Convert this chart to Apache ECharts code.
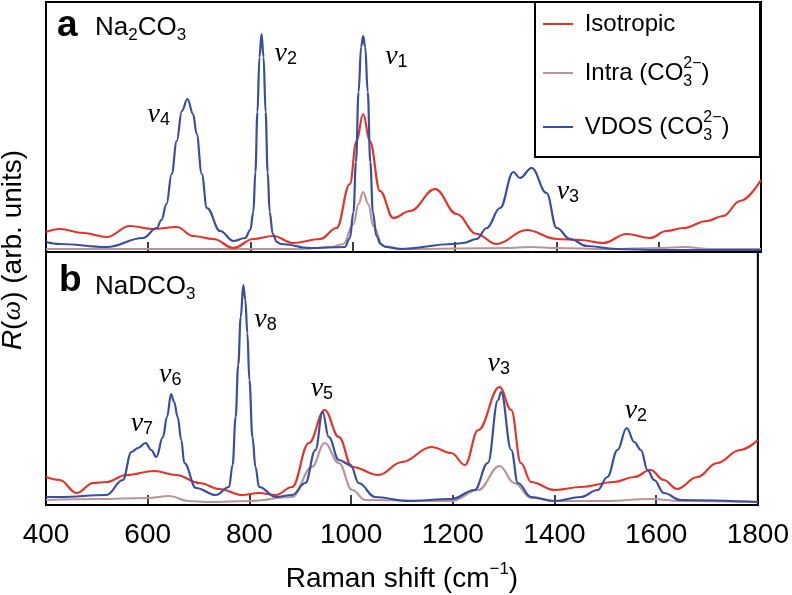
<!DOCTYPE html>
<html>
<head>
<meta charset="utf-8">
<script src="https://cdn.jsdelivr.net/npm/echarts@6/dist/echarts.min.js"></script>
<style>
  html, body { margin: 0; padding: 0; background: #fff; }
  #main { width: 792px; height: 595px; }
</style>
</head>
<body>
<div id="main"></div>
<script>
// x ticks (Raman shift, cm-1)
const xTicks = [400, 600, 800, 1000, 1200, 1400, 1600, 1800];

// panel a: Na2CO3  ([shift, R] in arb. units)
const isotropicA = [[400,20],[427,23],[473,19],[519,15],[564,26],[610,23],[656,25],[688,16],[728,13],[767,4],[806,13],[845,16],[884,9],[937,13],[969,24],[995,68],[1008,111],[1021,138],[1034,111],[1054,61],[1080,34],[1113,41],[1162,63],[1204,38],[1243,18],[1282,8],[1341,22],[1400,13],[1446,12],[1491,9],[1537,18],[1583,14],[1615,21],[1648,24],[1694,31],[1726,36],[1759,51],[1800,72]];
const intraA = [[400,3],[600,3],[700,3],[800,3],[900,3],[960,5],[982,8],[1002,28],[1012,48],[1021,60],[1031,48],[1041,26],[1060,6],[1100,3],[1300,4],[1350,5],[1400,4],[1500,3],[1600,4],[1650,5],[1700,3],[1800,3]];
const vdosA = [[400,10],[427,8],[519,5],[590,14],[617,24],[626,32],[636,48],[646,78],[656,111],[666,141],[677,153],[688,138],[695,118],[705,78],[715,44],[741,21],[767,11],[790,14],[800,22],[806,40],[810,80],[814,140],[818,195],[822,218],[826,195],[830,140],[834,80],[838,40],[844,18],[852,10],[860,8],[917,4],[985,5],[995,14],[1002,40],[1007,90],[1012,160],[1017,205],[1021,216],[1025,205],[1030,160],[1035,90],[1040,40],[1047,16],[1055,8],[1065,5],[1093,3],[1197,8],[1217,9],[1243,13],[1263,24],[1289,44],[1315,80],[1328,74],[1351,84],[1380,59],[1400,24],[1426,13],[1459,6],[1517,3],[1600,2],[1800,2]];

// panel b: NaDCO3
const isotropicB = [[400,28],[427,25],[460,12],[493,22],[519,23],[558,30],[613,34],[656,30],[702,22],[741,16],[786,10],[819,12],[852,10],[884,18],[917,62],[948,95],[976,68],[1002,38],[1054,30],[1100,43],[1158,58],[1197,52],[1224,40],[1250,75],[1292,118],[1315,95],[1334,42],[1354,23],[1400,15],[1452,18],[1517,23],[1557,28],[1589,35],[1615,25],[1641,16],[1681,28],[1720,42],[1765,55],[1800,65]];
const intraB = [[400,5],[500,6],[600,7],[643,9],[680,4],[720,3],[800,4],[884,8],[923,38],[948,62],[976,42],[1002,15],[1028,5],[1197,4],[1250,15],[1292,39],[1321,22],[1354,7],[1400,4],[1500,4],[1590,6],[1650,4],[1800,3]];
const vdosB = [[400,8],[427,8],[519,10],[551,25],[568,53],[581,57],[596,62],[607,55],[617,48],[630,68],[638,88],[646,111],[652,103],[659,88],[666,65],[672,42],[695,17],[734,10],[760,18],[767,40],[773,88],[778,140],[783,188],[788,220],[792,205],[796,172],[800,125],[806,68],[812,38],[819,18],[852,8],[884,10],[910,22],[930,55],[944,93],[956,68],[976,45],[999,40],[1015,22],[1047,8],[1112,4],[1197,6],[1243,15],[1269,42],[1289,105],[1295,113],[1315,55],[1328,22],[1354,8],[1400,4],[1452,8],[1485,15],[1504,28],[1524,55],[1542,77],[1557,63],[1570,55],[1583,35],[1596,25],[1615,12],[1648,5],[1800,3]];

// mode labels [subscript, shift, height]
const modesA = [["4", 677, 153], ["2", 822, 218], ["1", 1021, 216], ["3", 1351, 84]];
const modesB = [["7", 596, 62], ["6", 646, 111], ["8", 788, 220], ["5", 948, 95], ["3", 1292, 118], ["2", 1542, 77]];

const FONT = "Liberation Sans";
const RED = "#e5322a";
const ROSE = "#b9959a";
const BLUE = "#3a4ea1";

const chart = echarts.init(document.getElementById("main"));

function xAxisFor(idx, showLabel) {
  return {
    type: "value",
    gridIndex: idx,
    min: 400,
    max: 1800,
    interval: 200,
    axisLine: { show: true, lineStyle: { color: "#000", width: 2 } },
    axisTick: { show: true, inside: true, length: 10, lineStyle: { color: "#000", width: 1.5 } },
    splitLine: { show: false },
    axisLabel: {
      show: showLabel,
      color: "#000",
      fontFamily: FONT,
      fontSize: 28,
      margin: 16,
      showMinLabel: true,
      showMaxLabel: true,
      formatter: v => (xTicks.indexOf(v) >= 0 ? String(v) : "")
    }
  };
}

const subSup = {
  t: { fontFamily: FONT, fontSize: 24, lineHeight: 34, color: "#000" },
  sb: { fontFamily: FONT, fontSize: 16, lineHeight: 16, verticalAlign: "bottom", width: 0, color: "#000" },
  sp: { fontFamily: FONT, fontSize: 16, lineHeight: 16, verticalAlign: "top", color: "#000" }
};

function lineSeries(name, color, data, idx) {
  return {
    name: name,
    type: "line",
    xAxisIndex: idx,
    yAxisIndex: idx,
    data: data,
    showSymbol: false,
    smooth: 0.4,
    smoothMonotone: "x",
    lineStyle: { color: color, width: 2.2 },
    itemStyle: { color: color },
    emphasis: { disabled: true },
    z: name === "VDOS" ? 4 : name === "Isotropic" ? 3 : 2
  };
}

const option = {
  backgroundColor: "#fff",
  animation: false,
  grid: [
    { left: 46, right: 31, top: 2, height: 250, show: true, borderColor: "#000", borderWidth: 2, backgroundColor: "transparent" },
    { left: 46, right: 31, top: 252, height: 253, show: true, borderColor: "#000", borderWidth: 2, backgroundColor: "transparent" }
  ],
  xAxis: [
    xAxisFor(0, false),
    Object.assign(xAxisFor(1, true), {
      name: "{t|Raman shift (cm}{sp|−1}{t|)}",
      nameLocation: "middle",
      nameGap: 56,
      nameTextStyle: {
        rich: {
          t: { fontFamily: FONT, fontSize: 28, lineHeight: 36, color: "#000" },
          sp: { fontFamily: FONT, fontSize: 17, lineHeight: 17, verticalAlign: "top", color: "#000" }
        }
      }
    })
  ],
  yAxis: [
    { type: "value", gridIndex: 0, min: 0, max: 250, show: false },
    { type: "value", gridIndex: 1, min: 0, max: 253, show: false }
  ],
  legend: {
    orient: "vertical",
    left: 543,
    top: 12,
    padding: 0,
    itemGap: 20,
    itemWidth: 30,
    itemHeight: 2,
    icon: "rect",
    data: ["Isotropic", "Intra", "VDOS"],
    formatter: n => (n === "Isotropic" ? "{t| Isotropic}" : "{t| " + n + " (CO}{sb|3}{sp|2−}{t|)}"),
    textStyle: { rich: subSup }
  },
  series: [
    lineSeries("Intra", ROSE, intraA, 0),
    lineSeries("Isotropic", RED, isotropicA, 0),
    lineSeries("VDOS", BLUE, vdosA, 0),
    lineSeries("Intra", ROSE, intraB, 1),
    lineSeries("Isotropic", RED, isotropicB, 1),
    lineSeries("VDOS", BLUE, vdosB, 1)
  ]
};

chart.setOption(option);

// mode labels, offset from their peak after layout
const nuRich = {
  v: { fontFamily: "Liberation Serif", fontStyle: "italic", fontSize: 28, lineHeight: 28, color: "#000" },
  s: { fontFamily: FONT, fontSize: 18, lineHeight: 18, verticalAlign: "bottom", color: "#000" }
};
const modeOffsets = {
  a: [[-40, 16], [13, 20], [22, 21], [25, 24]],
  b: [[-15, -19], [-12, -19], [11, 35], [-14, -21], [-12, -23], [-2, -17]]
};
function modeLabels(list, gi, offs) {
  return list.map((m, i) => {
    const p = chart.convertToPixel({ gridIndex: gi }, [m[1], m[2]]);
    return {
      type: "text",
      x: p[0] + offs[i][0],
      y: p[1] + offs[i][1],
      style: { text: "{v|ν}{s|" + m[0] + "}", rich: nuRich, verticalAlign: "middle" }
    };
  });
}

const formulaRich = {
  t: { fontFamily: FONT, fontSize: 26, lineHeight: 32, color: "#000" },
  s: { fontFamily: FONT, fontSize: 17, lineHeight: 17, verticalAlign: "bottom", color: "#000" }
};

const graphics = [
  { type: "rect", shape: { x: 535, y: 2, width: 225, height: 155 }, style: { fill: "none", stroke: "#000", lineWidth: 2 }, z: 10 },
  { type: "text", x: 57, y: 26, style: { text: "a", fontFamily: FONT, fontWeight: "bold", fontSize: 37, fill: "#000", verticalAlign: "middle" } },
  { type: "text", x: 95, y: 28, style: { text: "{t|Na}{s|2}{t|CO}{s|3}", verticalAlign: "middle", rich: formulaRich } },
  { type: "text", x: 59, y: 281, style: { text: "b", fontFamily: FONT, fontWeight: "bold", fontSize: 37, fill: "#000", verticalAlign: "middle" } },
  { type: "text", x: 95, y: 287, style: { text: "{t|NaDCO}{s|3}", verticalAlign: "middle", rich: formulaRich } },
  { type: "text", x: 13, y: 250, rotation: Math.PI / 2, style: {
      text: "{i|R}{g|(}{w|ω}{g|) (arb. units)}", align: "center", verticalAlign: "middle", rich: {
        i: { fontFamily: FONT, fontStyle: "italic", fontSize: 28, color: "#000" },
        g: { fontFamily: FONT, fontSize: 28, color: "#000" },
        w: { fontFamily: "Liberation Serif", fontStyle: "italic", fontSize: 28, color: "#000" } } } }
].concat(modeLabels(modesA, 0, modeOffsets.a), modeLabels(modesB, 1, modeOffsets.b));

chart.setOption({ graphic: graphics });
</script>
</body>
</html>
